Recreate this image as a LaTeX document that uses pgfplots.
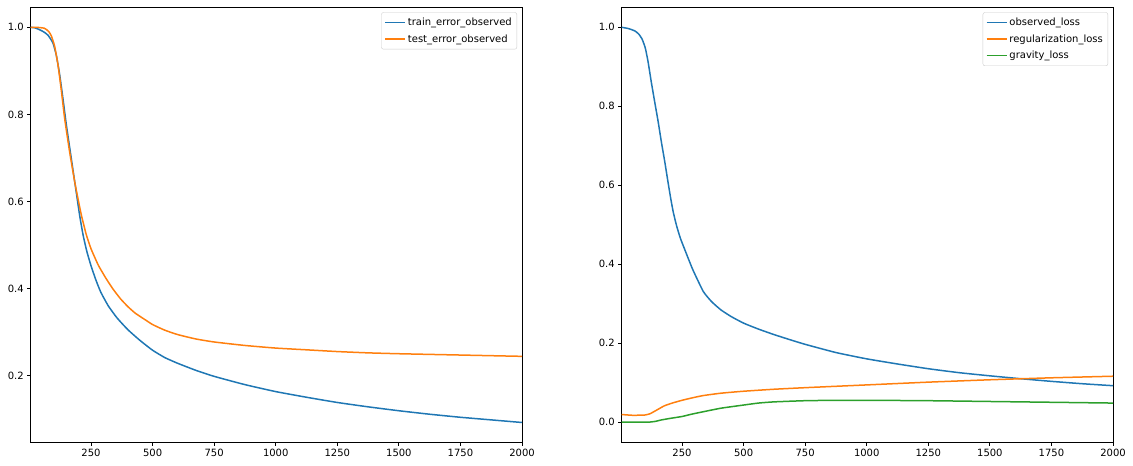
\documentclass[border=0pt]{standalone}
\usepackage{fontspec}
\setmainfont{DejaVu Sans}
\usepackage{pgfplots}
\pgfplotsset{compat=1.18}
\definecolor{tabblue}{HTML}{1F77B4}
\definecolor{taborange}{HTML}{FF7F0E}
\definecolor{tabgreen}{HTML}{2CA02C}

\pgfplotsset{
  mpl/.style={
    scale only axis, width=491.3pt, height=435pt,
    xmin=5, xmax=2000,
    xtick={250,500,...,2000},
    axis line style={line width=0.8pt},
    tick align=outside, tick pos=left,
    major tick length=3.5pt,
    every tick/.style={black, line width=0.8pt},
    ticklabel style={font=\fontsize{10}{12}\selectfont},
    /pgf/number format/assume math mode=true,
    /pgf/number format/1000 sep={},
    scaled ticks=false,
    yticklabel style={/pgf/number format/fixed, /pgf/number format/precision=1, /pgf/number format/fixed zerofill},
    legend cell align=left,
    legend style={at={(1,1)}, anchor=north east, xshift=-5pt, yshift=-5pt,
      draw=black!20, rounded corners=2pt, font=\fontsize{10}{12}\selectfont,
      inner xsep=3pt, inner ysep=3.5pt, row sep=3.5pt},
    every axis plot/.append style={line width=1.5pt},
  }
}

\begin{document}
\begin{tikzpicture}
\useasboundingbox (0,0) rectangle (1133pt,466pt);

% left panel: train / test error
\begin{axis}[mpl, at={(30.7pt,23.7pt)}, anchor=south west,
  ymin=0.0465, ymax=1.046, ytick={0.2,0.4,0.6,0.8,1.0},
  legend image code/.code={\draw[#1] (0pt,0pt) -- (20pt,0pt);}]
\addplot[tabblue, smooth, tension=0.3] coordinates {
(5,1.000)(20,0.999)(35,0.996)(50,0.992)(62,0.988)(75,0.982)(85,0.974)(96,0.963)
(109,0.936)(123,0.890)(136,0.836)(150,0.775)(170,0.698)(190,0.621)(204,0.567)
(218,0.522)(233,0.485)(250,0.452)(270,0.419)(290,0.391)(320,0.360)(356,0.332)
(400,0.305)(450,0.280)(500,0.258)(550,0.241)(602,0.228)(675,0.212)(750,0.198)
(875,0.179)(1000,0.163)(1125,0.150)(1250,0.138)(1375,0.128)(1500,0.119)
(1625,0.111)(1750,0.104)(1875,0.098)(2000,0.092)
};
\addlegendentry{train\_error\_observed}
\addplot[taborange, smooth, tension=0.3] coordinates {
(5,1.000)(30,1.000)(48,0.999)(60,0.998)(69,0.995)(80,0.989)(89,0.980)(102,0.957)
(116,0.913)(130,0.852)(143,0.790)(163,0.714)(184,0.644)(200,0.598)(211,0.568)
(230,0.525)(250,0.491)(280,0.453)(312,0.422)(340,0.398)(370,0.376)(400,0.358)
(430,0.343)(470,0.328)(500,0.317)(550,0.304)(602,0.294)(675,0.284)(750,0.277)(875,0.269)
(1000,0.263)(1125,0.259)(1250,0.255)(1375,0.252)(1500,0.250)(1750,0.247)(2000,0.244)
};
\addlegendentry{test\_error\_observed}
\end{axis}

% right panel: loss components
\begin{axis}[mpl, at={(621.7pt,23.7pt)}, anchor=south west,
  ymin=-0.0514, ymax=1.0507, ytick={0,0.2,0.4,0.6,0.8,1.0},
  legend image code/.code={\draw[#1] (0pt,0pt) -- (20pt,0pt);}]
\addplot[tabblue, smooth, tension=0.3] coordinates {
(5,1.000)(31,0.997)(58,0.991)(74,0.983)(88,0.970)(101,0.947)(112,0.913)(125,0.862)
(139,0.811)(153,0.761)(166,0.710)(180,0.659)(193,0.608)(205,0.563)(215,0.530)
(228,0.497)(243,0.466)(261,0.437)(293,0.387)(336,0.331)(370,0.305)(408,0.284)
(450,0.267)(500,0.2505)(560,0.2355)(623,0.2216)(690,0.2082)(750,0.1968)
(875,0.176)(1000,0.160)(1125,0.147)(1250,0.135)(1375,0.125)(1500,0.117)
(1620,0.110)(1750,0.103)(1875,0.097)(2000,0.092)
};
\addlegendentry{observed\_loss}
\addplot[taborange, smooth, tension=0.3] coordinates {
(5,0.019)(50,0.017)(100,0.0178)(120,0.021)(135,0.026)(155,0.033)(178,0.041)
(210,0.048)(250,0.055)(290,0.061)(336,0.067)(408,0.073)(500,0.078)(623,0.083)
(750,0.087)(1000,0.094)(1250,0.101)(1500,0.107)(1750,0.112)(2000,0.116)
};
\addlegendentry{regularization\_loss}
\addplot[tabgreen, smooth, tension=0.3] coordinates {
(5,0.000)(60,0.000)(121,0.000)(145,0.002)(164,0.005)(200,0.009)(250,0.014)
(290,0.020)(336,0.026)(408,0.035)(500,0.043)(560,0.048)(623,0.051)(750,0.054)
(875,0.055)(1000,0.055)(1250,0.054)(1500,0.052)(1750,0.050)(2000,0.048)
};
\addlegendentry{gravity\_loss}
\end{axis}
\end{tikzpicture}
\end{document}
